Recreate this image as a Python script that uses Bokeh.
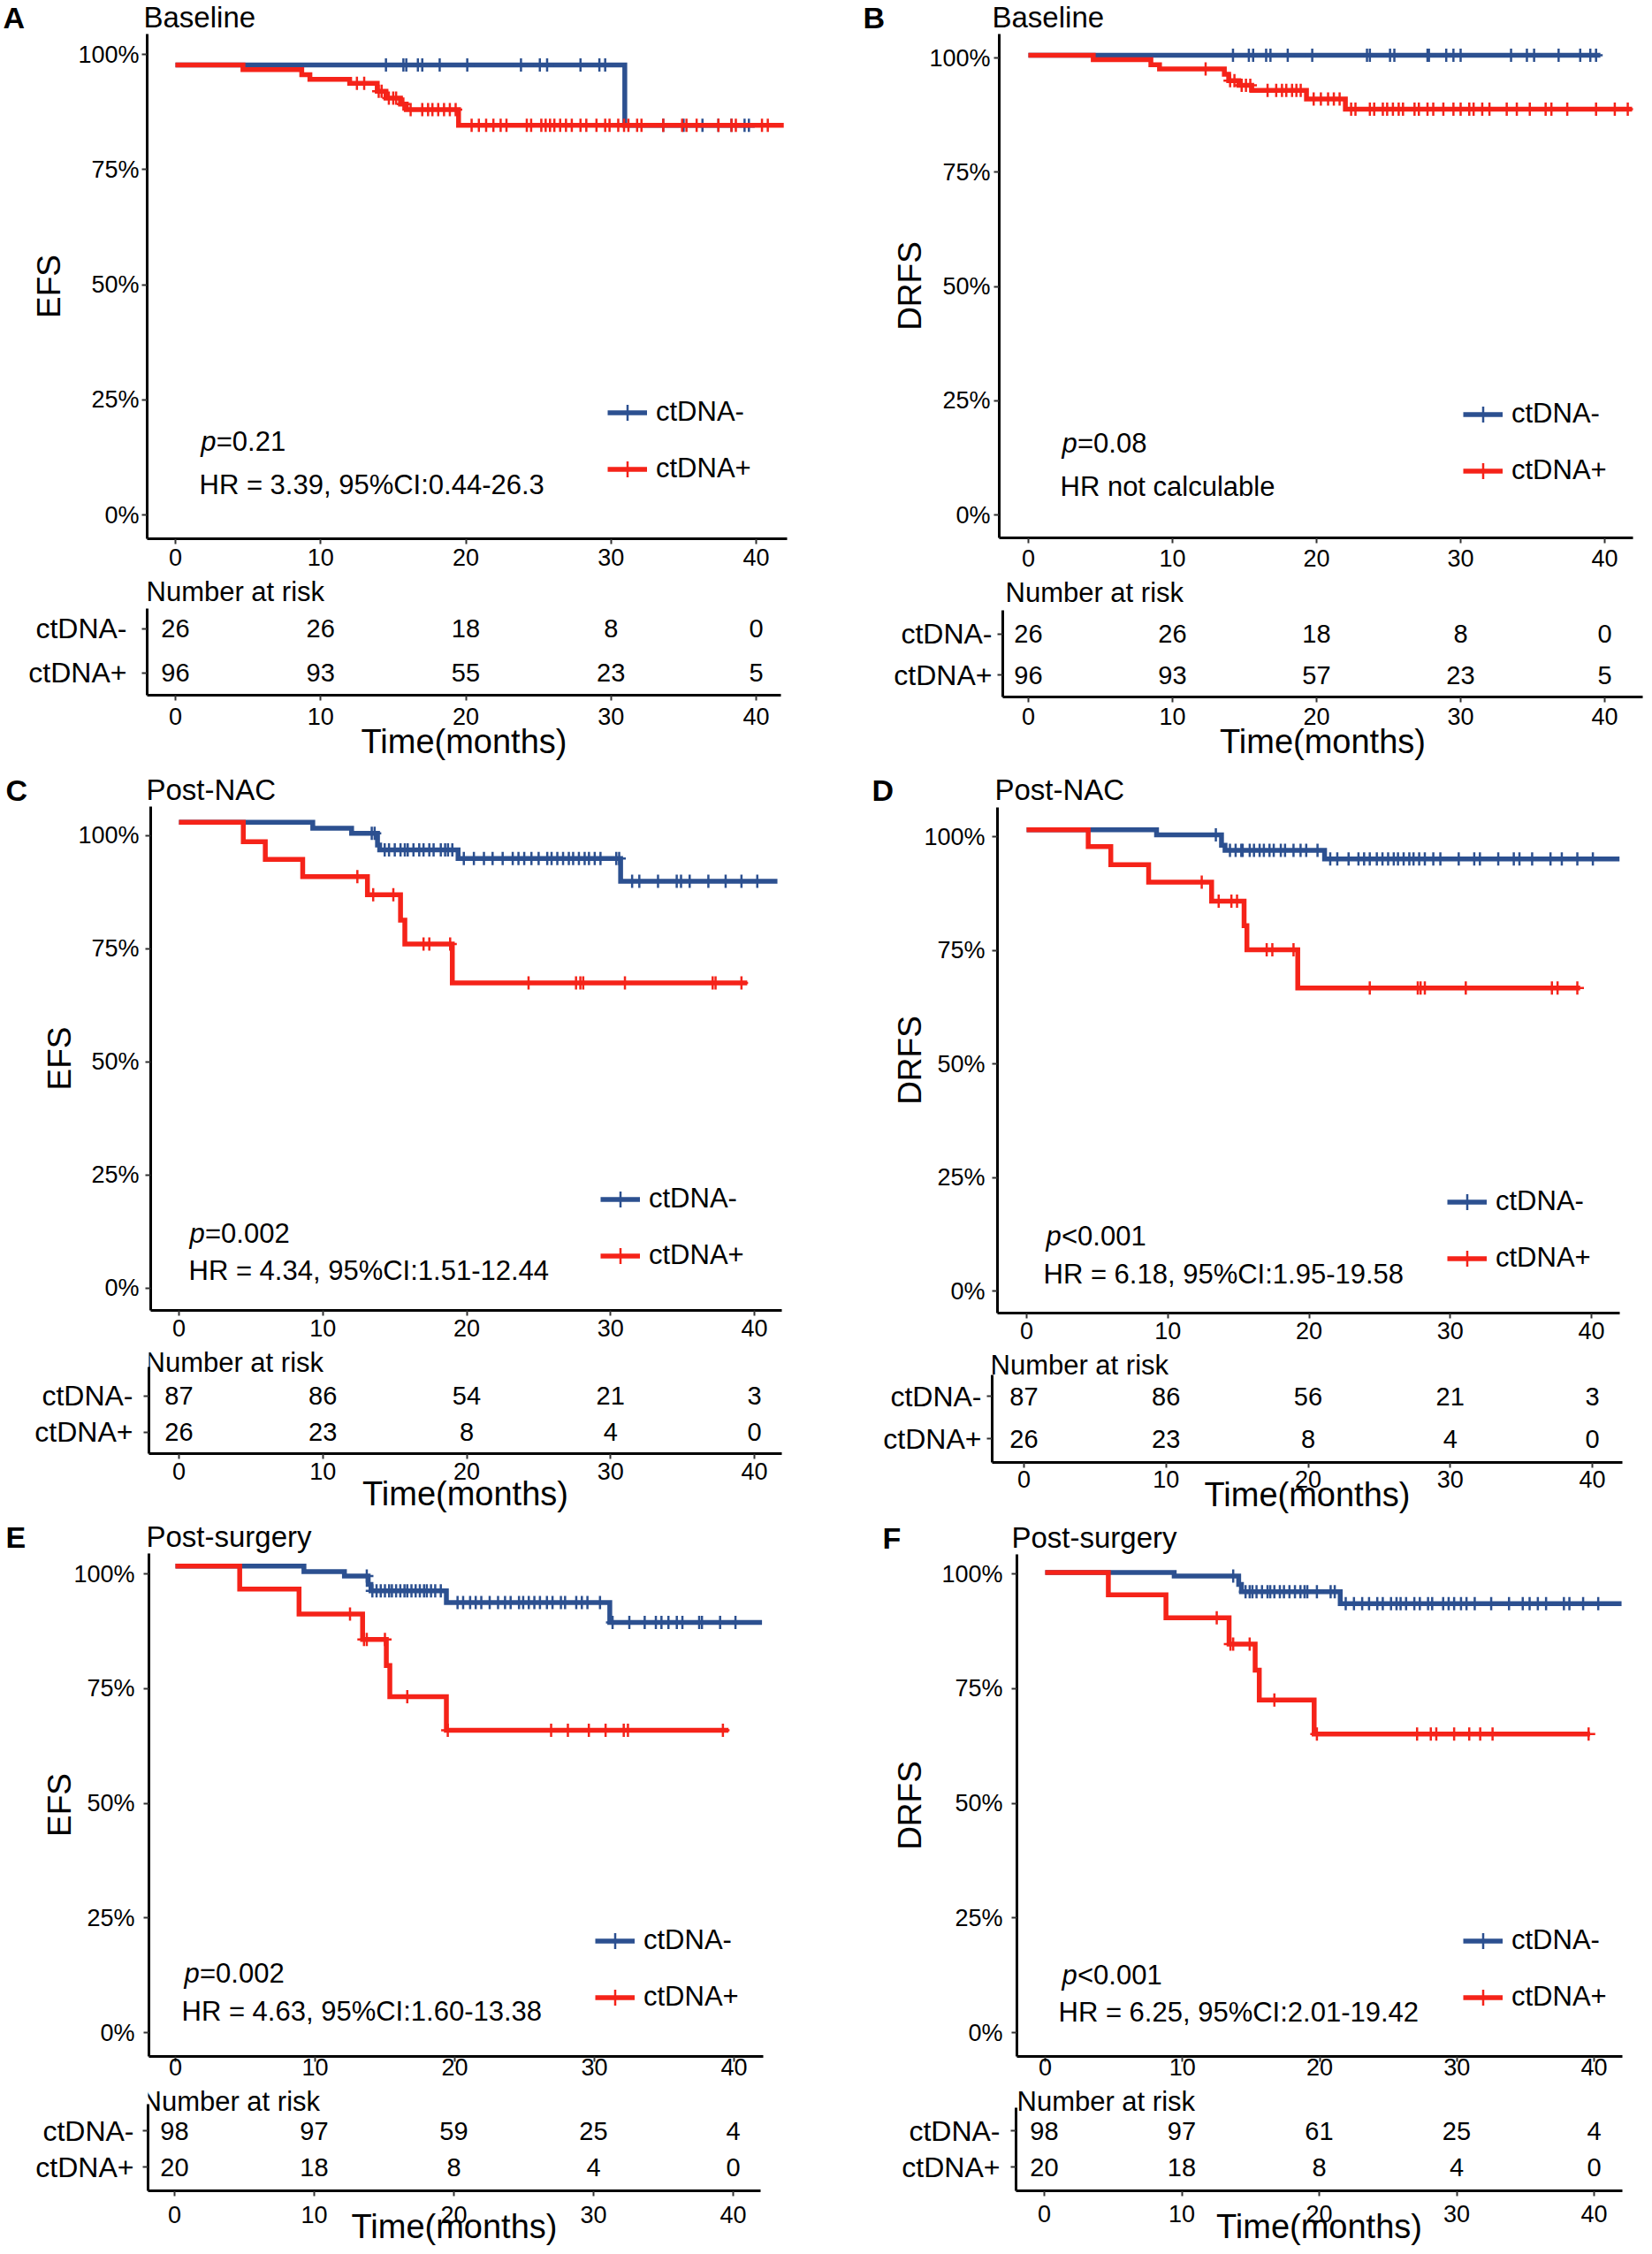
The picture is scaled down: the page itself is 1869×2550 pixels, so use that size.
from bokeh.plotting import figure
from bokeh.models import (Range1d, FixedTicker, NumeralTickFormatter, Label,
                          Legend, LegendItem)
from bokeh.layouts import column, row
from bokeh.embed import file_html
from bokeh.resources import INLINE
from bokeh.core.properties import value

FONT = "Liberation Sans"
BLUE = "#2C5090"
RED = "#F52319"

# ------------------------------------------------------------------ data
group_labels = ["ctDNA-", "ctDNA+"]
time_ticks = [0, 10, 20, 30, 40]
surv_ticks = [0, 0.25, 0.5, 0.75, 1.0]
risk_times = [0, 10, 20, 30, 40]

panel_letters = ["A", "B", "C", "D", "E", "F"]
panel_titles = ["Baseline", "Baseline", "Post-NAC", "Post-NAC", "Post-surgery", "Post-surgery"]
y_titles = ["EFS", "DRFS", "EFS", "DRFS", "EFS", "DRFS"]
p_values = ["=0.21", "=0.08", "=0.002", "<0.001", "=0.002", "<0.001"]
hr_texts = ["HR = 3.39, 95%CI:0.44-26.3", "HR not calculable",
            "HR = 4.34, 95%CI:1.51-12.44", "HR = 6.18, 95%CI:1.95-19.58",
            "HR = 4.63, 95%CI:1.60-13.38", "HR = 6.25, 95%CI:2.01-19.42"]

risk_neg = [[26, 26, 18, 8, 0], [26, 26, 18, 8, 0], [87, 86, 54, 21, 3],
            [87, 86, 56, 21, 3], [98, 97, 59, 25, 4], [98, 97, 61, 25, 4]]
risk_pos = [[96, 93, 55, 23, 5], [96, 93, 57, 23, 5], [26, 23, 8, 4, 0],
            [26, 23, 8, 4, 0], [20, 18, 8, 4, 0], [20, 18, 8, 4, 0]]

# Panel A (Baseline, EFS)
a_neg_start = 0.977
a_neg_t = [30.95]
a_neg_s = [0.846]
a_neg_end = 39.9
a_neg_cens = [14.5, 15.7, 15.9, 16.7, 17.0, 18.2, 20.1, 23.8, 25.1, 25.6, 27.9, 29.2, 29.6,
              33.6, 35.0, 36.3, 37.4, 38.3, 39.2, 39.5]
a_pos_start = 0.977
a_pos_t = [4.65, 8.7, 9.26, 12.0, 13.9, 14.5, 15.5, 15.9, 19.5]
a_pos_s = [0.967, 0.956, 0.946, 0.937, 0.920, 0.905, 0.892, 0.880, 0.846]
a_pos_end = 41.9
a_pos_cens = [12.5, 13.0, 14.0, 14.2, 14.7, 15.0, 15.2, 15.7, 16.2, 17.0, 17.4, 17.7, 18.1, 18.5,
              18.9, 19.3, 20.4, 20.9, 21.4, 21.9, 22.4, 22.8, 24.2, 24.5, 25.2, 25.5, 25.8, 26.1,
              26.5, 26.9, 27.3, 27.9, 28.3, 29.0, 29.6, 29.9, 30.5, 30.9, 31.2, 31.8, 32.1, 33.6,
              34.9, 35.2, 35.9, 37.4, 38.3, 38.6, 40.4, 40.8]

# Panel B (Baseline, DRFS)
b_neg_start = 1.006
b_neg_t = []
b_neg_s = []
b_neg_end = 39.7
b_neg_cens = [14.2, 15.3, 15.6, 16.5, 16.8, 18.0, 19.7, 23.5, 23.7, 25.1, 25.4, 27.7, 27.8,
              29.0, 29.5, 30.0, 33.5, 34.6, 35.1, 36.8, 38.3, 39.0, 39.4]
b_pos_start = 1.006
b_pos_t = [4.5, 8.5, 9.1, 13.6, 13.9, 14.6, 15.5, 19.3, 22.0]
b_pos_s = [0.996, 0.985, 0.976, 0.964, 0.950, 0.940, 0.929, 0.910, 0.888]
b_pos_end = 41.9
b_pos_cens = [12.3, 14.0, 14.3, 14.8, 15.1, 15.4, 16.6, 17.2, 17.6, 17.9, 18.3, 18.6, 18.9,
              19.8, 20.3, 20.8, 21.2, 21.6, 22.4, 22.7, 23.7, 24.0, 24.6, 24.9, 25.3, 25.7,
              26.0, 26.8, 27.1, 27.7, 28.1, 28.8, 29.5, 30.0, 30.6, 30.9, 31.5, 32.0, 33.2,
              33.9, 34.8, 35.9, 36.3, 37.4, 39.4, 40.7, 41.6]

# Panel C (Post-NAC, EFS)
c_neg_start = 1.029
c_neg_t = [9.3, 12.0, 13.8, 13.95, 19.4, 30.7]
c_neg_s = [1.016, 1.005, 0.979, 0.968, 0.949, 0.899]
c_neg_end = 41.6
c_neg_cens = [13.4, 13.6, 14.3, 14.6, 15.0, 15.4, 15.7, 15.9, 16.3, 16.7, 17.0, 17.4, 17.7,
              18.2, 18.5, 18.7, 19.0, 19.8, 20.5, 21.2, 21.8, 22.5, 23.2, 23.6, 24.0, 24.5,
              25.0, 25.6, 25.9, 26.3, 26.7, 27.1, 27.4, 27.8, 28.2, 28.5, 28.9, 29.3, 30.4,
              30.6, 31.5, 32.0, 33.3, 34.6, 34.9, 35.5, 36.8, 38.0, 39.1, 40.2]
c_pos_start = 1.029
c_pos_t = [4.47, 6.0, 8.6, 13.1, 15.4, 15.7, 19.0]
c_pos_s = [0.986, 0.947, 0.909, 0.869, 0.813, 0.760, 0.674]
c_pos_end = 39.5
c_pos_cens = [12.4, 13.5, 14.9, 17.0, 17.4, 18.85, 24.3, 27.6, 27.9, 28.1, 31.0, 37.1, 37.3, 39.1]

# Panel D (Post-NAC, DRFS)
d_neg_start = 1.015
d_neg_t = [9.2, 13.8, 14.05, 21.1]
d_neg_s = [1.004, 0.981, 0.970, 0.951]
d_neg_end = 42.0
d_neg_cens = [13.4, 14.4, 14.8, 15.2, 15.3, 15.8, 16.1, 16.5, 16.8, 17.2, 17.5, 18.0, 18.3,
              18.9, 19.4, 19.8, 20.6, 21.5, 22.0, 22.8, 23.5, 23.9, 24.3, 24.8, 25.2, 25.6,
              26.0, 26.3, 26.7, 27.1, 27.4, 27.8, 28.2, 28.8, 29.3, 30.6, 31.7, 32.1, 33.4,
              34.5, 34.9, 35.8, 37.1, 37.9, 39.0, 40.1]
d_pos_start = 1.015
d_pos_t = [4.36, 5.96, 8.64, 13.1, 15.4, 15.6, 19.2]
d_pos_s = [0.978, 0.938, 0.900, 0.858, 0.804, 0.751, 0.667]
d_pos_end = 39.2
d_pos_cens = [12.4, 13.6, 14.5, 14.9, 17.0, 17.4, 18.9, 24.3, 27.7, 27.9, 28.2, 31.1, 37.2, 37.6, 39.0]

# Panel E (Post-surgery, EFS)
e_neg_start = 1.017
e_neg_t = [9.2, 12.1, 13.8, 14.0, 19.4, 31.1]
e_neg_s = [1.005, 0.995, 0.977, 0.963, 0.9375, 0.894]
e_neg_end = 42.0
e_neg_cens = [13.7, 14.1, 14.4, 14.7, 15.0, 15.3, 15.5, 15.8, 16.1, 16.4, 16.6, 16.9, 17.2,
              17.5, 17.8, 18.0, 18.3, 18.6, 19.0, 20.2, 20.6, 21.1, 21.5, 21.9, 22.5, 23.1,
              23.6, 24.0, 24.6, 24.9, 25.3, 25.7, 26.1, 26.6, 27.0, 27.6, 27.9, 28.7, 29.1,
              29.5, 30.4, 31.3, 32.5, 33.6, 34.4, 34.8, 35.3, 35.9, 36.3, 37.5, 37.7, 39.0, 40.1]
e_pos_start = 1.017
e_pos_t = [4.6, 8.85, 13.4, 15.1, 15.35, 19.4]
e_pos_s = [0.967, 0.9125, 0.857, 0.800, 0.732, 0.659]
e_pos_end = 39.6
e_pos_cens = [12.5, 13.5, 13.7, 15.0, 16.6, 19.5, 26.9, 28.1, 29.6, 30.8, 32.1, 32.4, 39.2]

# Panel F (Post-surgery, DRFS)
f_neg_start = 1.003
f_neg_t = [9.4, 14.1, 14.3, 21.5]
f_neg_s = [0.995, 0.977, 0.961, 0.935]
f_neg_end = 42.0
f_neg_cens = [13.7, 14.6, 14.9, 15.1, 15.4, 15.8, 16.2, 16.4, 16.7, 17.1, 17.4, 17.8, 18.2,
              18.6, 18.9, 19.1, 19.8, 20.8, 21.1, 21.9, 22.5, 23.1, 23.6, 24.2, 24.6, 25.2,
              25.6, 25.9, 26.3, 26.9, 27.3, 27.9, 28.2, 29.0, 29.4, 29.8, 30.3, 30.7, 31.3,
              32.5, 33.8, 34.8, 35.3, 35.9, 36.5, 37.8, 38.2, 39.2, 40.3]
f_pos_start = 1.003
f_pos_t = [4.6, 8.8, 13.4, 15.3, 15.6, 19.6]
f_pos_s = [0.954, 0.904, 0.847, 0.790, 0.725, 0.651]
f_pos_end = 39.7
f_pos_cens = [12.5, 13.5, 13.7, 14.9, 16.7, 19.8, 27.1, 28.1, 28.5, 29.8, 30.9, 31.7, 32.6, 39.6]

curves = [
    [(a_neg_start, a_neg_t, a_neg_s, a_neg_end, a_neg_cens), (a_pos_start, a_pos_t, a_pos_s, a_pos_end, a_pos_cens)],
    [(b_neg_start, b_neg_t, b_neg_s, b_neg_end, b_neg_cens), (b_pos_start, b_pos_t, b_pos_s, b_pos_end, b_pos_cens)],
    [(c_neg_start, c_neg_t, c_neg_s, c_neg_end, c_neg_cens), (c_pos_start, c_pos_t, c_pos_s, c_pos_end, c_pos_cens)],
    [(d_neg_start, d_neg_t, d_neg_s, d_neg_end, d_neg_cens), (d_pos_start, d_pos_t, d_pos_s, d_pos_end, d_pos_cens)],
    [(e_neg_start, e_neg_t, e_neg_s, e_neg_end, e_neg_cens), (e_pos_start, e_pos_t, e_pos_s, e_pos_end, e_pos_cens)],
    [(f_neg_start, f_neg_t, f_neg_s, f_neg_end, f_neg_cens), (f_pos_start, f_pos_t, f_pos_s, f_pos_end, f_pos_cens)],
]

# ------------------------------------------------------------------ layout (page pixels)
LAYOUT = [
    dict(cols=(0, 930), hdr=(0, 38), km_y_box=(38, 651), km_frame=(166, 890, 38, 609),
         km_x=(198, 855), km_y=(582, 61), tab_y_box=(651, 868), tab_frame=(166, 883, 651, 786),
         tab_top=688, tab_x=(198, 855), tab_y=(710.7, 760.7),
         letter=(3, 19), title=(162, 19), ptxt=(226.7, 499), hr=(225, 547.5), nar=(165, 668.5),
         legend=(687, 530), ytick=(3, 9), xstand=5, tab_xstand=8, tab_ystand=17, time_stand=-5),
    dict(cols=(930, 1866), hdr=(0, 38), km_y_box=(38, 652), km_frame=(1130, 1847, 38, 608),
         km_x=(1163, 1815), km_y=(582, 65), tab_y_box=(652, 868), tab_frame=(1134, 1858, 652, 788),
         tab_top=690, tab_x=(1163, 1815), tab_y=(716.6, 763),
         letter=(976, 19), title=(1122, 19), ptxt=(1201, 501), hr=(1199, 550), nar=(1137, 669.5),
         legend=(1655, 532), ytick=(4, -2), xstand=7, tab_xstand=6, tab_ystand=6, time_stand=-5),
    dict(cols=(0, 930), hdr=(868, 912), km_y_box=(912, 1523), km_frame=(170, 884, 912, 1482),
         km_x=(202, 853), km_y=(1456.7, 944.7), tab_y_box=(1523, 1719), tab_frame=(168, 884, 1523, 1644),
         tab_top=1546, tab_x=(202, 853), tab_y=(1578.6, 1619.6),
         letter=(6, 893), title=(165, 893), ptxt=(214, 1395), hr=(213, 1437), nar=(164, 1540.5),
         legend=(679, 1420), ytick=(7, -3), xstand=4, tab_xstand=4, tab_ystand=12, time_stand=-8),
    dict(cols=(930, 1866), hdr=(868, 913), km_y_box=(913, 1526), km_frame=(1128, 1832, 913, 1485),
         km_x=(1161, 1800), km_y=(1460, 946), tab_y_box=(1526, 1720), tab_frame=(1122, 1835, 1526, 1654),
         tab_top=1555, tab_x=(1158, 1801), tab_y=(1579, 1627),
         letter=(986, 893), title=(1125, 893), ptxt=(1183, 1398), hr=(1180, 1441), nar=(1120, 1543.5),
         legend=(1637, 1423), ytick=(8, -8), xstand=4, tab_xstand=3, tab_ystand=6, time_stand=-16),
    dict(cols=(0, 930), hdr=(1719, 1757), km_y_box=(1757, 2359), km_frame=(168, 863, 1757, 2326),
         km_x=(198, 830), km_y=(2299, 1780), tab_y_box=(2359, 2548), tab_frame=(167, 860, 2359, 2478),
         tab_top=2380, tab_x=(197, 829), tab_y=(2410, 2451),
         letter=(6, 1738), title=(165, 1738), ptxt=(208, 2232), hr=(205, 2275), nar=(160, 2376.5),
         legend=(673, 2259), ytick=(10, -8), xstand=-4, tab_xstand=11, tab_ystand=10, time_stand=-20),
    dict(cols=(930, 1866), hdr=(1720, 1758), km_y_box=(1758, 2359), km_frame=(1150, 1835, 1758, 2326),
         km_x=(1182, 1803), km_y=(2299, 1780), tab_y_box=(2359, 2548), tab_frame=(1149, 1835, 2359, 2478),
         tab_top=2384, tab_x=(1181, 1803), tab_y=(2410, 2451),
         letter=(998, 1739), title=(1144, 1739), ptxt=(1201, 2234), hr=(1197, 2276), nar=(1150, 2376.5),
         legend=(1655, 2259), ytick=(10, 12), xstand=-4, tab_xstand=10, tab_ystand=12, time_stand=-19),
]


def surv_at(t, start, ts, ss):
    s = start
    for dt, ds in zip(ts, ss):
        if t >= dt:
            s = ds
    return s


def style_axis(ax, size, standoff):
    ax.axis_line_width = 3
    ax.axis_line_color = "black"
    ax.major_tick_line_color = "#333333"
    ax.major_tick_line_width = 2
    ax.major_tick_out = 6
    ax.major_tick_in = 0
    ax.minor_tick_line_color = None
    ax.major_label_text_font = FONT
    ax.major_label_text_font_size = size
    ax.major_label_text_color = "black"
    ax.major_label_standoff = standoff


def clean(p):
    p.outline_line_color = None
    p.xgrid.visible = False
    p.ygrid.visible = False
    p.background_fill_color = "white"
    p.border_fill_color = "white"
    if "frame_align" in p.properties():
        p.frame_align = False


def borders(cols, ybox, frame):
    X0, X1 = cols
    Y0, Y1 = ybox
    fl, fr, ft, fb = frame
    return dict(width=int(X1 - X0), height=int(Y1 - Y0),
                min_border_left=int(round(fl - X0)), min_border_right=int(round(X1 - fr)),
                min_border_top=int(round(ft - Y0)), min_border_bottom=int(round(Y1 - fb)))


def label(p, x, y, text, size, align="left", style="normal"):
    p.add_layout(Label(x=x, y=y, text=text, text_font=FONT, text_font_size=size,
                       text_align=align, text_baseline="middle", text_font_style=style,
                       text_color="black"))


def build_header(i):
    L = LAYOUT[i]
    X0, X1 = L["cols"]
    Y0, Y1 = L["hdr"]
    p = figure(width=int(X1 - X0), height=int(Y1 - Y0), title=None, output_backend="svg",
               toolbar_location=None, x_axis_location=None, y_axis_location=None,
               x_range=Range1d(X0, X1), y_range=Range1d(Y1, Y0),
               min_border_left=0, min_border_right=0, min_border_top=0, min_border_bottom=0)
    clean(p)
    label(p, *L["letter"], panel_letters[i], "34px", style="bold")
    label(p, *L["title"], panel_titles[i], "33px")
    return p


def build_km(i):
    L = LAYOUT[i]
    fl, fr, ft, fb = L["km_frame"]
    x0px, x40px = L["km_x"]
    ppm = (x40px - x0px) / 40.0
    y0px, y1px = L["km_y"]
    ppu = y0px - y1px
    p = figure(title=None, output_backend="svg", toolbar_location=None,
               x_range=Range1d((fl - x0px) / ppm, (fr - x0px) / ppm),
               y_range=Range1d((y0px - fb) / ppu, (y0px - ft) / ppu),
               **borders(L["cols"], L["km_y_box"], L["km_frame"]))
    clean(p)

    def conv(rx, ry):
        return (rx - x0px) / ppm, (y0px - ry) / ppu

    style_axis(p.xaxis[0], "27px", L["xstand"])
    style_axis(p.yaxis[0], "27px", L["ytick"][0])
    p.xaxis.ticker = FixedTicker(ticks=time_ticks)
    p.yaxis.ticker = FixedTicker(ticks=surv_ticks)
    p.yaxis.formatter = NumeralTickFormatter(format="0%")
    p.yaxis.axis_label = y_titles[i]
    p.yaxis.axis_label_text_font = FONT
    p.yaxis.axis_label_text_font_size = "37px"
    p.yaxis.axis_label_text_font_style = "normal"
    p.yaxis.axis_label_text_color = "black"
    p.yaxis.axis_label_standoff = L["ytick"][1]

    items = []
    for (start, ts, ss, end, cens), color, lab in zip(curves[i], [BLUE, RED], group_labels):
        xs = [0.0] + list(ts) + [end]
        ys = [start] + list(ss) + [ss[-1] if ss else start]
        r_line = p.step(xs, ys, mode="after", line_width=5.5, line_color=color, line_join="miter")
        cy = [surv_at(t, start, ts, ss) for t in cens]
        r_mark = p.scatter(cens, cy, marker="cross", size=15, line_width=2.5, line_color=color)
        items.append(LegendItem(label=lab, renderers=[r_line, r_mark]))

    gx, gy = L["legend"]
    legend = Legend(items=items, location=(gx - fl, fb - (gy + 22.5)), orientation="vertical",
                    padding=0, margin=0, spacing=19, glyph_width=45, glyph_height=45,
                    label_height=45, label_standoff=10, label_text_font=FONT,
                    label_text_font_size="31px", label_text_color="black",
                    border_line_color=None, background_fill_alpha=0)
    p.add_layout(legend)

    px_, py_ = L["ptxt"]
    label(p, *conv(px_, py_), "p", "31px", style="italic")
    label(p, *conv(px_ + 17.5, py_), p_values[i], "31px")
    label(p, *conv(*L["hr"]), hr_texts[i], "31px")
    return p


def build_table(i):
    L = LAYOUT[i]
    fl, fr, ft, fb = L["tab_frame"]
    x0px, x40px = L["tab_x"]
    ppm = (x40px - x0px) / 40.0
    r2px, r1px = L["tab_y"]
    ppu = r1px - r2px

    def conv(rx, ry):
        return (rx - x0px) / ppm, 1 + (r1px - ry) / ppu

    y_bottom = conv(0, fb)[1]
    y_top = conv(0, ft)[1]
    p = figure(title=None, output_backend="svg", toolbar_location=None,
               x_range=Range1d((fl - x0px) / ppm, (fr - x0px) / ppm),
               y_range=Range1d(y_bottom, y_top),
               **borders(L["cols"], L["tab_y_box"], L["tab_frame"]))
    clean(p)

    style_axis(p.xaxis[0], "27px", L["tab_xstand"])
    style_axis(p.yaxis[0], "32px", L["tab_ystand"])
    p.xaxis.ticker = FixedTicker(ticks=time_ticks)
    p.yaxis.ticker = FixedTicker(ticks=[1, 2])
    p.yaxis.major_label_overrides = {2: group_labels[0], 1: group_labels[1]}
    p.yaxis.bounds = (y_bottom, conv(0, L["tab_top"])[1])
    p.xaxis.axis_label = "Time(months)"
    p.xaxis.axis_label_text_font = FONT
    p.xaxis.axis_label_text_font_size = "38px"
    p.xaxis.axis_label_text_font_style = "normal"
    p.xaxis.axis_label_text_color = "black"
    p.xaxis.axis_label_standoff = L["time_stand"]

    for row_y, counts in ((2, risk_neg[i]), (1, risk_pos[i])):
        p.text(x=risk_times, y=[row_y] * len(risk_times), text=[str(c) for c in counts],
               text_font=value(FONT), text_font_size=value("29px"), text_align="center",
               text_baseline="middle", text_color="black")

    label(p, *conv(*L["nar"]), "Number at risk", "31px")
    return p


def panel(i):
    return [build_header(i), build_km(i), build_table(i)]


left = column(panel(0) + panel(2) + panel(4), spacing=0)
right = column(panel(1) + panel(3) + panel(5), spacing=0)
page = row([left, right], spacing=0)

open("out.html", "w").write(file_html(page, INLINE))
